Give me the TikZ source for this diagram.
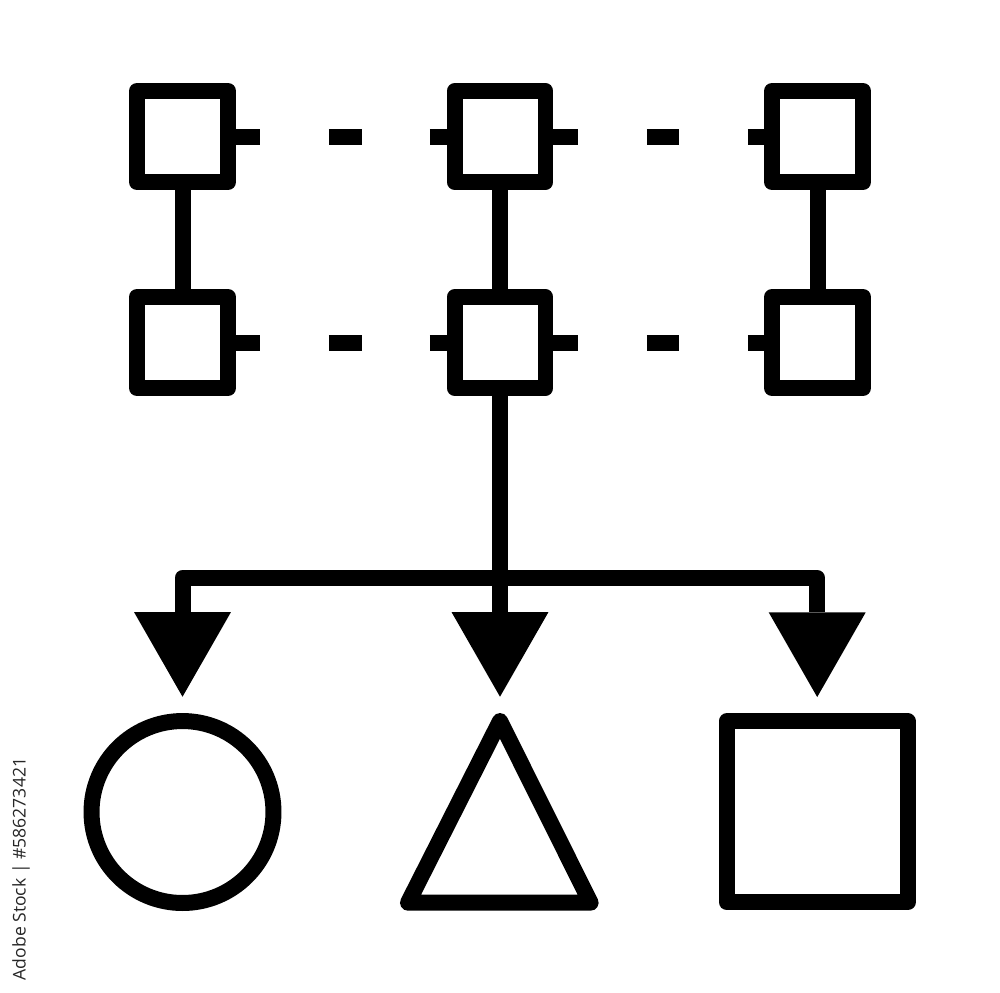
\documentclass[tikz,border=0pt]{standalone}
\usepackage{fontspec}
\newfontfamily\wmfont{Open Sans}
\usetikzlibrary{arrows.meta}
\tikzset{
  ln/.style={line width=3.2mm, line join=round},
  sbox/.style={draw, ln, minimum size=1.82cm, inner sep=0pt, outer sep=0pt},
  bbox/.style={draw, ln, minimum size=3.62cm, inner sep=0pt, outer sep=0pt},
  bcirc/.style={draw, ln, circle, minimum size=3.64cm, inner sep=0pt, outer sep=0pt},
  dashL/.style={ln, dash pattern=on 0.64cm off 1.38cm on 0.66cm off 1.36cm on 1cm},
  dashR/.style={ln, dash pattern=on 0.65cm off 1.38cm on 0.64cm off 1.38cm on 1cm},
  arr/.style={ln, -{Triangle[length=1.694cm, width=1.94cm, line width=0pt]}, shorten >=0.486cm},
}
\begin{document}
\begin{tikzpicture}[x=0.02cm, y=-0.02cm]
\useasboundingbox (0,0) rectangle (1000,992);
% small squares
\node[sbox] (a1) at (182.5,136.5) {};
\node[sbox] (a2) at (182.5,342.5) {};
\node[sbox] (b1) at (500,136.5) {};
\node[sbox] (b2) at (500,342.5) {};
\node[sbox] (c1) at (817.5,136.5) {};
\node[sbox] (c2) at (817.5,342.5) {};
% vertical links
\draw[ln] (a1.south) -- (a2.north);
\draw[ln] (b1.south) -- (b2.north);
\draw[ln] (c1.south) -- (c2.north);
% dashed horizontal links
\draw[dashL] (a1.east) -- (b1.west);
\draw[dashR] (b1.east) -- (c1.west);
\draw[dashL] (a2.east) -- (b2.west);
\draw[dashR] (b2.east) -- (c2.west);
% bottom shapes
\node[bcirc] (o) at (182.5,812) {};
\coordinate (tA) at (500,721);
\coordinate (tL) at (408,902.7);
\coordinate (tR) at (590.6,902.7);
\draw[ln] (tA) -- (tR) -- (tL) -- cycle;
\node[bbox] (sq) at (817.2,811.8) {};
% tree of arrows
\coordinate (j) at (500,577.7);
\draw[arr] (b2.south) -- (tA);
\draw[arr] (j) -| (o.north);
\draw[arr] (j) -| (sq.north);
% side text
\node[rotate=90, font=\wmfont\fontsize{10}{12}\selectfont, text=black!85, inner sep=0pt] (wm) at (21,869) {Adobe Stock | \#586273421};
\end{tikzpicture}
\end{document}
